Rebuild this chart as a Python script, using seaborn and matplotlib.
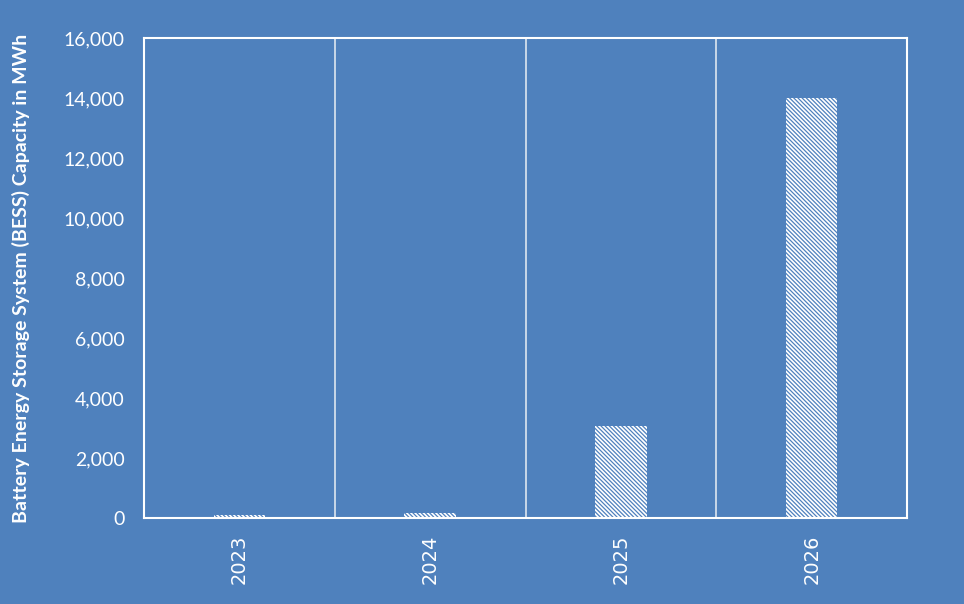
import numpy as np
import pandas as pd
import matplotlib
matplotlib.use("Agg")
from matplotlib import pyplot as plt
from matplotlib.ticker import FuncFormatter
import seaborn as sns

years = ["2023", "2024", "2025", "2026"]
capacity_mwh = [100, 180, 3050, 14000]

bg = "#4F81BD"

sns.set_theme(style="white")
plt.rcParams["font.family"] = ["Lato", "DejaVu Sans"]
plt.rcParams["hatch.linewidth"] = 0.9
plt.rcParams["hatch.color"] = bg

df = pd.DataFrame({"year": years, "capacity": capacity_mwh})

fig = plt.figure(figsize=(9.64, 6.04), dpi=100, facecolor=bg)
ax = fig.add_axes([0.1494, 0.1424, 0.7915, 0.7947])
ax.set_facecolor(bg)

sns.barplot(data=df, x="year", y="capacity", ax=ax, width=0.27,
            color="white", edgecolor=bg, linewidth=0, hatch="\\" * 8, saturation=1)

ax.set_ylim(0, 16000)
ax.set_xlim(-0.5, 3.5)
ax.set_yticks(np.arange(0, 16001, 2000))
ax.yaxis.set_major_formatter(FuncFormatter(lambda v, p: f"{v:,.0f}"))

# vertical separators between categories
ax.set_xticks([0.5, 1.5, 2.5], minor=True)
ax.grid(True, which="minor", axis="x", color="#DDE6F0", linewidth=1.2)
ax.grid(False, which="major")

for s in ax.spines.values():
    s.set_color("white")
    s.set_linewidth(1.5)

ax.tick_params(axis="both", which="both", length=0, colors="white")
ax.tick_params(axis="y", labelsize=14, pad=14)
ax.tick_params(axis="x", labelsize=14, pad=12)
for lbl in ax.get_xticklabels():
    lbl.set_rotation(90)
    lbl.set_fontfamily(["DejaVu Sans"])

ax.set_xlabel("")
ax.set_ylabel("Battery Energy Storage System (BESS) Capacity in MWh",
              color="white", fontsize=14, fontweight="bold")
ax.yaxis.set_label_coords(-0.15, 0.5)

fig.savefig("out.png", dpi=100, facecolor=bg)
